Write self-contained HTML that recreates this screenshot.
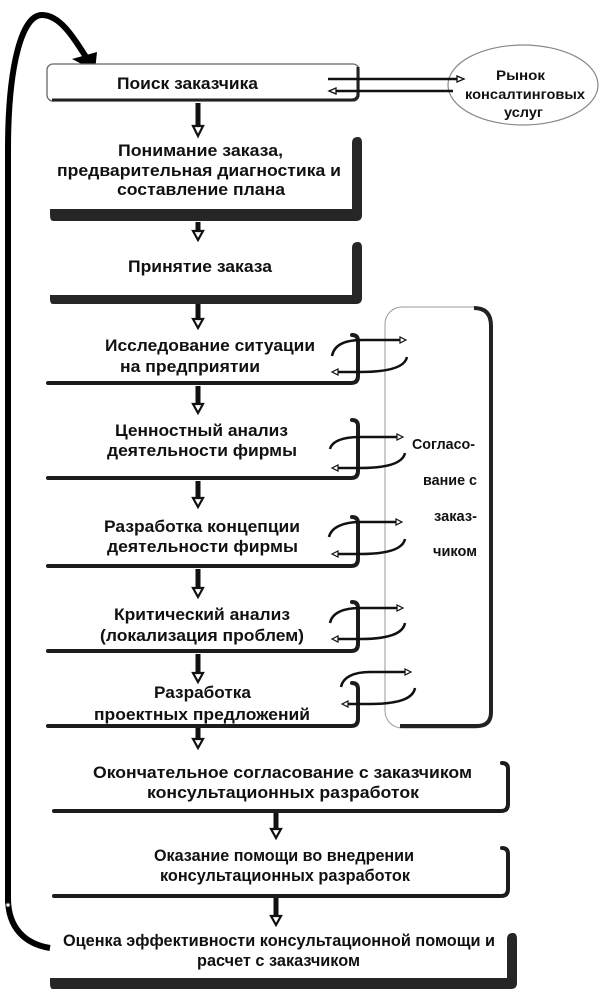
<!DOCTYPE html>
<html><head><meta charset="utf-8"><style>
html,body{margin:0;padding:0;background:#fff;}
svg{display:block;}
text{font-family:"Liberation Sans","DejaVu Sans",sans-serif;font-weight:bold;fill:#111;}
</style></head><body>
<svg width="608" height="992" viewBox="0 0 608 992" xmlns="http://www.w3.org/2000/svg">
<rect width="608" height="992" fill="#fff"/>

<!-- big feedback loop on left -->
<path d="M8,903 L8,150 C8,65 22,15 42,15 C60,15 74,38 86,57" fill="none" stroke="#000" stroke-width="6"/>
<polygon points="72,59 97,52 95,71" fill="#000"/>
<path d="M8,898 C8,928 25,944 50,948" fill="none" stroke="#000" stroke-width="6"/>
<circle cx="8" cy="905" r="2" fill="#fff" stroke="#444" stroke-width="1"/>

<!-- Box 1: Поиск заказчика -->
<rect x="47" y="64" width="312" height="37" rx="6" fill="#fff" stroke="#666" stroke-width="1.3"/>
<path d="M358,67 L358,94 Q358,100 351,100 L52,100" fill="none" stroke="#222" stroke-width="3"/>
<text x="117" y="89" font-size="17" textLength="141" lengthAdjust="spacingAndGlyphs">Поиск заказчика</text>

<!-- ellipse + market connectors -->
<ellipse cx="523" cy="85" rx="75" ry="40" fill="#fff" stroke="#888" stroke-width="1.2"/>
<line x1="328" y1="79" x2="459" y2="79" stroke="#111" stroke-width="2.5"/>
<polygon points="464,79 457,76 457,82" fill="#fff" stroke="#111" stroke-width="1.3"/>
<line x1="336" y1="91" x2="453" y2="91" stroke="#111" stroke-width="2.5"/>
<polygon points="329,91 336,88 336,94" fill="#fff" stroke="#111" stroke-width="1.3"/>
<text x="496" y="80" font-size="13.5" textLength="49" lengthAdjust="spacingAndGlyphs">Рынок</text>
<text x="465" y="99" font-size="13.5" textLength="120" lengthAdjust="spacingAndGlyphs">консалтинговых</text>
<text x="504" y="117" font-size="13.5" textLength="39" lengthAdjust="spacingAndGlyphs">услуг</text>

<!-- Box 2: Понимание заказа -->
<path d="M50,209 L352,209 L352,143 Q352,137 358,137 Q362,137 362,143 L362,215 Q362,221 356,221 L53,221 Q50,221 50,215 Z" fill="#262626"/>
<text x="118" y="156" font-size="17" textLength="165" lengthAdjust="spacingAndGlyphs">Понимание заказа,</text>
<text x="57" y="176" font-size="17" textLength="284" lengthAdjust="spacingAndGlyphs">предварительная диагностика и</text>
<text x="117" y="195" font-size="17" textLength="168" lengthAdjust="spacingAndGlyphs">составление плана</text>

<!-- Box 3: Принятие заказа -->
<path d="M50,295 L352,295 L352,248 Q352,242 358,242 Q362,242 362,248 L362,298 Q362,304 356,304 L53,304 Q50,304 50,299 Z" fill="#262626"/>
<text x="128" y="272" font-size="17" textLength="144" lengthAdjust="spacingAndGlyphs">Принятие заказа</text>

<!-- thin boxes: right edge + bottom line -->
<g fill="none" stroke="#1c1c1c" stroke-width="4" stroke-linecap="round">
<path d="M352,335 Q358,335 358,341 L358,376 Q358,383 351,383 L48,383"/>
<path d="M352,420 Q358,420 358,426 L358,471 Q358,478 351,478 L48,478"/>
<path d="M352,517 Q358,517 358,523 L358,559 Q358,566 351,566 L48,566"/>
<path d="M352,602 Q358,602 358,608 L358,644 Q358,651 351,651 L48,651"/>
<path d="M352,683 Q358,683 358,689 L358,719 Q358,726 351,726 L48,726"/>
<path d="M502,763 Q508,763 508,769 L508,804 Q508,811 501,811 L54,811"/>
<path d="M502,848 Q508,848 508,854 L508,889 Q508,896 501,896 L54,896"/>
</g>

<!-- Box 11: Оценка (thick) -->
<path d="M50,978 L507,978 L507,939 Q507,933 513,933 Q517,933 517,939 L517,983 Q517,989 511,989 L53,989 Q50,989 50,984 Z" fill="#262626"/>

<!-- texts boxes 4-11 -->
<text x="105" y="351" font-size="17" textLength="210" lengthAdjust="spacingAndGlyphs">Исследование ситуации</text>
<text x="120" y="372" font-size="17" textLength="140" lengthAdjust="spacingAndGlyphs">на предприятии</text>
<text x="115" y="436" font-size="17" textLength="173" lengthAdjust="spacingAndGlyphs">Ценностный анализ</text>
<text x="107" y="456" font-size="17" textLength="190" lengthAdjust="spacingAndGlyphs">деятельности фирмы</text>
<text x="104" y="532" font-size="17" textLength="196" lengthAdjust="spacingAndGlyphs">Разработка концепции</text>
<text x="107" y="552" font-size="17" textLength="191" lengthAdjust="spacingAndGlyphs">деятельности фирмы</text>
<text x="114" y="620" font-size="17" textLength="176" lengthAdjust="spacingAndGlyphs">Критический анализ</text>
<text x="100" y="641" font-size="17" textLength="204" lengthAdjust="spacingAndGlyphs">(локализация проблем)</text>
<text x="154" y="698" font-size="17" textLength="97" lengthAdjust="spacingAndGlyphs">Разработка</text>
<text x="94" y="720" font-size="17" textLength="216" lengthAdjust="spacingAndGlyphs">проектных предложений</text>
<text x="93" y="778" font-size="17" textLength="379" lengthAdjust="spacingAndGlyphs">Окончательное согласование с заказчиком</text>
<text x="147" y="798" font-size="17" textLength="272" lengthAdjust="spacingAndGlyphs">консультационных разработок</text>
<text x="154" y="861" font-size="17" textLength="260" lengthAdjust="spacingAndGlyphs">Оказание помощи во внедрении</text>
<text x="160" y="881" font-size="17" textLength="250" lengthAdjust="spacingAndGlyphs">консультационных разработок</text>
<text x="63" y="946" font-size="17" textLength="432" lengthAdjust="spacingAndGlyphs">Оценка эффективности консультационной помощи и</text>
<text x="197" y="966" font-size="17" textLength="163" lengthAdjust="spacingAndGlyphs">расчет с заказчиком</text>

<!-- Согласование panel -->
<rect x="385" y="307" width="107" height="421" rx="17" fill="none" stroke="#9a9a9a" stroke-width="1"/>
<path d="M474,308 Q491,308 491,326 L491,712 Q491,726 477,726 L400,726" fill="none" stroke="#222" stroke-width="4"/>
<text x="412" y="449" font-size="15" textLength="63" lengthAdjust="spacingAndGlyphs">Согласо-</text>
<text x="423" y="485" font-size="15" textLength="54" lengthAdjust="spacingAndGlyphs">вание с</text>
<text x="434" y="521" font-size="15" textLength="43" lengthAdjust="spacingAndGlyphs">заказ-</text>
<text x="433" y="556" font-size="15" textLength="44" lengthAdjust="spacingAndGlyphs">чиком</text>

<!-- curly connectors -->
<g fill="none" stroke="#111" stroke-width="2.5">
<path d="M332,356 C334,345 345,340 362,340 L401,340"/>
<path d="M407,357 C405,367 390,372 360,372 L337,372"/>
<path d="M330,449 C332,441 343,437 360,437 L398,437"/>
<path d="M405,453 C403,463 388,468 360,468 L337,468"/>
<path d="M329,537 C331,528 342,522 360,522 L397,522"/>
<path d="M405,539 C403,549 388,554 360,554 L337,554"/>
<path d="M330,623 C332,613 343,608 360,608 L398,608"/>
<path d="M405,623 C403,634 388,639 360,639 L337,639"/>
<path d="M341,687 C343,677 354,672 370,672 L406,672"/>
<path d="M415,688 C413,699 398,704 370,704 L347,704"/>
</g>
<g fill="#fff" stroke="#111" stroke-width="1.2">
<polygon points="406,340 400,337 400,343"/>
<polygon points="332,372 338,369 338,375"/>
<polygon points="403,437 397,434 397,440"/>
<polygon points="332,468 338,465 338,471"/>
<polygon points="402,522 396,519 396,525"/>
<polygon points="332,554 338,551 338,557"/>
<polygon points="403,608 397,605 397,611"/>
<polygon points="332,639 338,636 338,642"/>
<polygon points="411,672 405,669 405,675"/>
<polygon points="342,704 348,701 348,707"/>
</g>

<!-- down arrows -->
<g fill="#111">
<rect x="195.5" y="103" width="5" height="23"/>
<rect x="195.5" y="222" width="5" height="10"/>
<rect x="195.5" y="304" width="5" height="15"/>
<rect x="195.5" y="386" width="5" height="18"/>
<rect x="195.5" y="481" width="5" height="17"/>
<rect x="195.5" y="569" width="5" height="19"/>
<rect x="195.5" y="654" width="5" height="19"/>
<rect x="195.5" y="728" width="5" height="11"/>
<rect x="273.5" y="813" width="5" height="16"/>
<rect x="273.5" y="898" width="5" height="18"/>
</g>
<g fill="#fff" stroke="#111" stroke-width="2.2" stroke-linejoin="miter">
<polygon points="193,126 203,126 198,136"/>
<polygon points="193,231 203,231 198,240"/>
<polygon points="193,319 203,319 198,328"/>
<polygon points="193,404 203,404 198,413"/>
<polygon points="193,498 203,498 198,507"/>
<polygon points="193,588 203,588 198,597"/>
<polygon points="193,673 203,673 198,682"/>
<polygon points="193,739 203,739 198,748"/>
<polygon points="271,829 281,829 276,838"/>
<polygon points="271,916 281,916 276,925"/>
</g>
</svg>
</body></html>
